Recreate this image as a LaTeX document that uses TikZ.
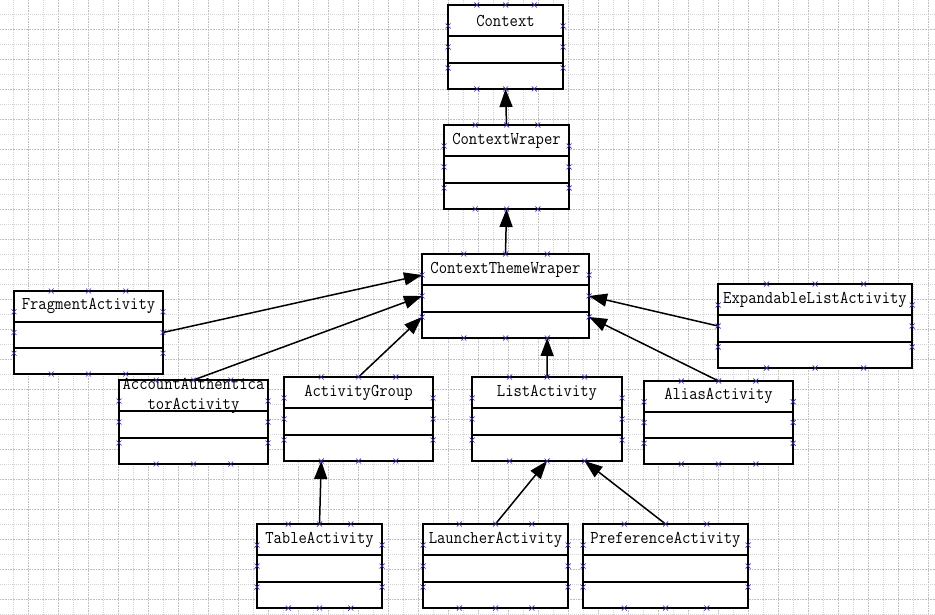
\documentclass[tikz,border=0pt]{standalone}
\usepackage{graphicx}
\usetikzlibrary{arrows.meta,calc}
\definecolor{hndcol}{RGB}{45,45,170}
\definecolor{gridmaj}{RGB}{190,190,190}
\definecolor{gridmin}{RGB}{212,212,212}
\newcommand\sx[1]{\scalebox{0.9}[1]{#1}}
\tikzset{
  cls/.style={draw=black, line width=1.6pt, fill=white, rectangle, inner sep=0pt, outer sep=0pt},
  divl/.style={draw=black, line width=1.6pt},
  ttl/.style={inner sep=0pt, align=center, font=\ttfamily\fontsize{18}{20}\selectfont},
  hnd/.style={draw=hndcol, line width=0.7pt},
  inh/.style={draw=black, line width=1.5pt, -{Triangle[length=18pt,width=13pt]}},
  gmaj/.style={draw=gridmaj, line width=0.5pt, dash pattern=on 1pt off 0.6pt},
  gmin/.style={draw=gridmin, line width=0.5pt, dash pattern=on 1pt off 1pt}
}
\newcommand\umlcls[6]{%
  \node[cls, minimum width=#4pt, minimum height=#5pt, anchor=north west] (#1) at (#2,#3) {};
  \draw[divl] ($(#1.north west)!0.37!(#1.south west)$) -- ($(#1.north east)!0.37!(#1.south east)$);
  \draw[divl] ($(#1.north west)!0.69!(#1.south west)$) -- ($(#1.north east)!0.69!(#1.south east)$);
  \node[ttl] (#1-title) at ($(#1.north)!0.185!(#1.south)$) {#6};
  \foreach \i/\f in {1/0.25,2/0.5,3/0.75}{
    \coordinate (#1-t\i) at ($(#1.north west)!\f!(#1.north east)$);
    \coordinate (#1-b\i) at ($(#1.south west)!\f!(#1.south east)$);
    \coordinate (#1-l\i) at ($(#1.north west)!\f!(#1.south west)$);
    \coordinate (#1-r\i) at ($(#1.north east)!\f!(#1.south east)$);
  }
}
\newcommand\umlhandles[1]{%
  \foreach \i in {1,2,3}{
    \foreach \s in {t,b,l,r}{
      \draw[hnd] (#1-\s\i) +(-2.5,-2.5) -- +(2.5,2.5) +(-2.5,2.5) -- +(2.5,-2.5);
    }
  }
}
\begin{document}
\begin{tikzpicture}[x=1pt,y=-1pt]
\useasboundingbox (0,0) rectangle (935,615);
\fill[white] (0,0) rectangle (935,615);
% grid
\foreach \gx in {13,43,...,935} \draw[gmin] (\gx,0) -- (\gx,615);
\foreach \gx in {28,58,...,935} \draw[gmaj] (\gx,0) -- (\gx,615);
\foreach \gy in {14,44,...,615} \draw[gmin] (0,\gy) -- (935,\gy);
\foreach \gy in {29,59,...,615} \draw[gmaj] (0,\gy) -- (935,\gy);
% classes
\umlcls{ctx}{448}{5}{115}{84}{\sx{Context}}
\umlcls{cw}{444}{125}{125}{84}{\sx{ContextWraper}}
\umlcls{ctw}{422}{254}{167}{84}{\sx{ContextThemeWraper}}
\umlcls{frag}{14}{291}{149}{83}{\sx{FragmentActivity}}
\umlcls{acct}{119}{380}{149}{84}{\sx{AccountAuthentica}\\\sx{torActivity}}
\umlcls{grp}{284}{377}{149}{84}{\sx{ActivityGroup}}
\umlcls{list}{472}{377}{150}{84}{\sx{ListActivity}}
\umlcls{alias}{644}{381}{149}{83}{\sx{AliasActivity}}
\umlcls{exp}{718}{284}{194}{84}{\sx{ExpandableListActivity}}
\umlcls{table}{257}{524}{125}{84}{\sx{TableActivity}}
\umlcls{launch}{423}{524}{145}{84}{\sx{LauncherActivity}}
\umlcls{pref}{583}{524}{165}{84}{\sx{PreferenceActivity}}
% inheritance arrows
\draw[inh] (cw-t2) -- (ctx-b2);
\draw[inh] (ctw-t2) -- (cw-b2);
\draw[inh] (frag-r2) -- (ctw-l1);
\draw[inh] (acct-t2) -- (ctw-l2);
\draw[inh] (grp-t2) -- (ctw-l3);
\draw[inh] (list-t2) -- (ctw-b3);
\draw[inh] (exp-l2) -- (ctw-r2);
\draw[inh] (alias-t2) -- (ctw-r3);
\draw[inh] (table-t2) -- (grp-b1);
\draw[inh] (launch-t2) -- (list-b2);
\draw[inh] (pref-t2) -- (list-b3);
% selection handles
\foreach \n in {ctx,cw,ctw,frag,acct,grp,list,alias,exp,table,launch,pref} {\umlhandles{\n}}
\end{tikzpicture}
\end{document}
